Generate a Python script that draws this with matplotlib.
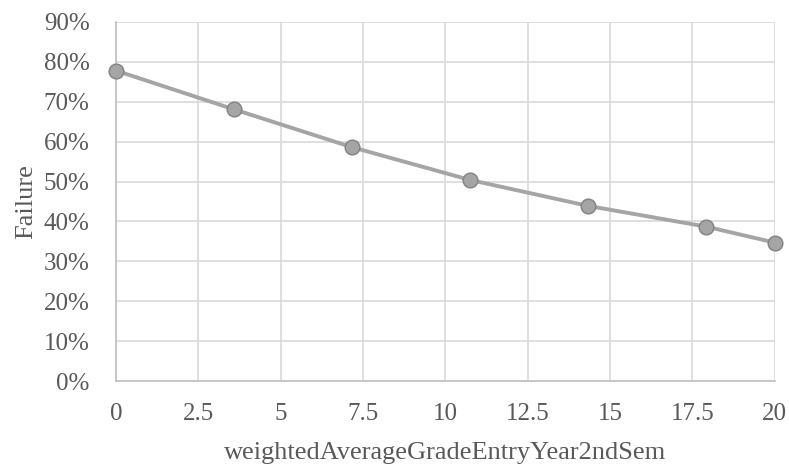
import matplotlib
matplotlib.use('Agg')
import matplotlib.pyplot as plt
from matplotlib.ticker import FuncFormatter

# values
grade = [0, 3.58, 7.17, 10.75, 14.33, 17.92, 20]
failure = [77.8, 68.1, 58.6, 50.4, 43.9, 38.7, 34.7]
x_ticks = [0, 2.5, 5, 7.5, 10, 12.5, 15, 17.5, 20]
y_ticks = [0, 10, 20, 30, 40, 50, 60, 70, 80, 90]

plt.rcParams['font.family'] = ['Liberation Serif', 'DejaVu Serif']
text_color = '#595959'

fig = plt.figure(figsize=(7.89, 4.67), dpi=100)
ax = fig.add_axes([0.147, 0.184, 0.835, 0.769])

ax.plot(grade, failure, color='#A5A5A5', linewidth=2.8,
        marker='o', markersize=10.5, markerfacecolor='#A5A5A5',
        markeredgecolor='#858585', markeredgewidth=1.1, zorder=3,
        clip_on=False)

ax.set_xlim(0, 20)
ax.set_ylim(0, 90)
ax.set_xticks(x_ticks)
ax.set_yticks(y_ticks)
ax.xaxis.set_major_formatter(FuncFormatter(lambda v, p: f'{v:g}'))
ax.yaxis.set_major_formatter(FuncFormatter(lambda v, p: f'{v:.0f}%'))

ax.grid(True, color='#D9D9D9', linewidth=1.2)
ax.set_axisbelow(True)
for side in ['top', 'right']:
    ax.spines[side].set_visible(False)
for side in ['left', 'bottom']:
    ax.spines[side].set_color('#BFBFBF')
    ax.spines[side].set_linewidth(1.2)

ax.tick_params(axis='both', length=0, labelsize=18, labelcolor=text_color)
ax.tick_params(axis='y', pad=19)
ax.tick_params(axis='x', pad=16)

ax.set_xlabel('weightedAverageGradeEntryYear2ndSem', fontsize=19,
              color=text_color, labelpad=12)
ax.set_ylabel('Failure', fontsize=19, color=text_color, labelpad=5)

fig.savefig('out.png', dpi=100)
